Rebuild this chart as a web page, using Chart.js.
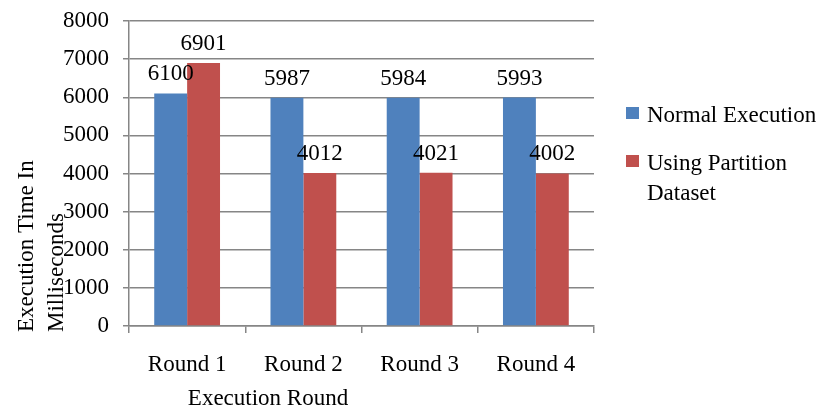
<!DOCTYPE html>
<html>
<head>
<meta charset="utf-8">
<script src="https://cdn.jsdelivr.net/npm/chart.js@4.4.1/dist/chart.umd.min.js"></script>
<style>
  html, body { margin: 0; padding: 0; background: #fff; }
  #wrap { width: 825px; height: 410px; position: relative; }
</style>
</head>
<body>
<div id="wrap"><canvas id="execChart"></canvas></div>
<script>
const rounds = ['Round 1', 'Round 2', 'Round 3', 'Round 4'];
const normalExec = [6100, 5987, 5984, 5993];
const partitionExec = [6901, 4012, 4021, 4002];
const seriesNames = ['Normal Execution', 'Using Partition Dataset'];
const legendLines = [['Normal Execution'], ['Using Partition', 'Dataset']];
const yTitleLines = ['Execution Time In', 'Milliseconds'];
const xTitle = 'Execution Round';

const BLUE = '#4F81BD';
const RED = '#C0504D';
const AXIS = '#868686';
const FONT = 'Liberation Serif, Times New Roman, serif';
const SIZE = 23;

Chart.defaults.font.family = FONT;
Chart.defaults.font.size = SIZE;
Chart.defaults.color = '#000';

// value labels above bars
const barValues = {
    id: 'barValues',
    afterDatasetsDraw(chart) {
        const { ctx } = chart;
        ctx.save();
        ctx.font = `${SIZE}px ${FONT}`;
        ctx.fillStyle = '#000';
        ctx.textAlign = 'center';
        ctx.textBaseline = 'alphabetic';
        chart.data.datasets.forEach((ds, di) => {
            chart.getDatasetMeta(di).data.forEach((el, i) => {
                ctx.fillText(String(ds.data[i]), el.x, el.y - 13);
            });
        });
        ctx.restore();
    }
};

// legend on the right, wrapped like the original
const sideLegend = {
    id: 'sideLegend',
    afterDraw(chart) {
        const { ctx, chartArea } = chart;
        const x0 = chartArea.right + 32;
        const tops = [107, 155];
        ctx.save();
        ctx.font = `${SIZE}px ${FONT}`;
        ctx.textAlign = 'left';
        ctx.textBaseline = 'alphabetic';
        chart.data.datasets.forEach((ds, i) => {
            ctx.fillStyle = ds.backgroundColor;
            ctx.fillRect(x0, tops[i], 13, 12);
            ctx.fillStyle = '#000';
            legendLines[i].forEach((line, j) => {
                ctx.fillText(line, x0 + 21, tops[i] + 15 + j * 30);
            });
        });
        ctx.restore();
    }
};

// axis titles (overlap the tick labels as in the source)
const axisTitles = {
    id: 'axisTitles',
    afterDraw(chart) {
        const { ctx } = chart;
        ctx.save();
        ctx.font = `${SIZE}px ${FONT}`;
        ctx.fillStyle = '#000';
        ctx.textBaseline = 'alphabetic';
        ctx.textAlign = 'left';
        [33, 63].forEach((bx, j) => {
            ctx.save();
            ctx.translate(bx, 332);
            ctx.rotate(-Math.PI / 2);
            ctx.fillText(yTitleLines[j], 0, 0);
            ctx.restore();
        });
        ctx.textAlign = 'center';
        ctx.fillText(xTitle, 268, 405);
        ctx.restore();
    }
};

new Chart(document.getElementById('execChart'), {
    type: 'bar',
    data: {
        labels: rounds,
        datasets: [
            { label: seriesNames[0], data: normalExec, backgroundColor: BLUE },
            { label: seriesNames[1], data: partitionExec, backgroundColor: RED }
        ]
    },
    options: {
        responsive: true,
        maintainAspectRatio: false,
        animation: false,
        layout: { padding: { left: 0, right: 231, top: 21, bottom: 0 } },
        datasets: { bar: { categoryPercentage: 0.566, barPercentage: 1.0 } },
        plugins: {
            legend: { display: false },
            tooltip: { enabled: false }
        },
        scales: {
            x: {
                grid: { display: true, drawOnChartArea: false, drawTicks: true, tickLength: 7, color: AXIS, lineWidth: 1.5 },
                border: { color: AXIS, width: 1.5 },
                ticks: { padding: 18, color: '#000', font: { size: SIZE } },
                afterFit(scale) {
                    scale.height = 84;
                    scale.paddingLeft = 0;
                    scale.paddingRight = 0;
                }
            },
            y: {
                min: 0,
                max: 8000,
                ticks: { stepSize: 1000, padding: 14, color: '#000', font: { size: SIZE }, callback: v => String(v) },
                grid: { color: AXIS, lineWidth: 1.5, tickLength: 6 },
                border: { color: AXIS, width: 1.5 },
                afterFit(scale) {
                    scale.width = 129;
                    scale.paddingTop = 0;
                    scale.paddingBottom = 0;
                }
            }
        }
    },
    plugins: [barValues, sideLegend, axisTitles]
});
</script>
</body>
</html>
